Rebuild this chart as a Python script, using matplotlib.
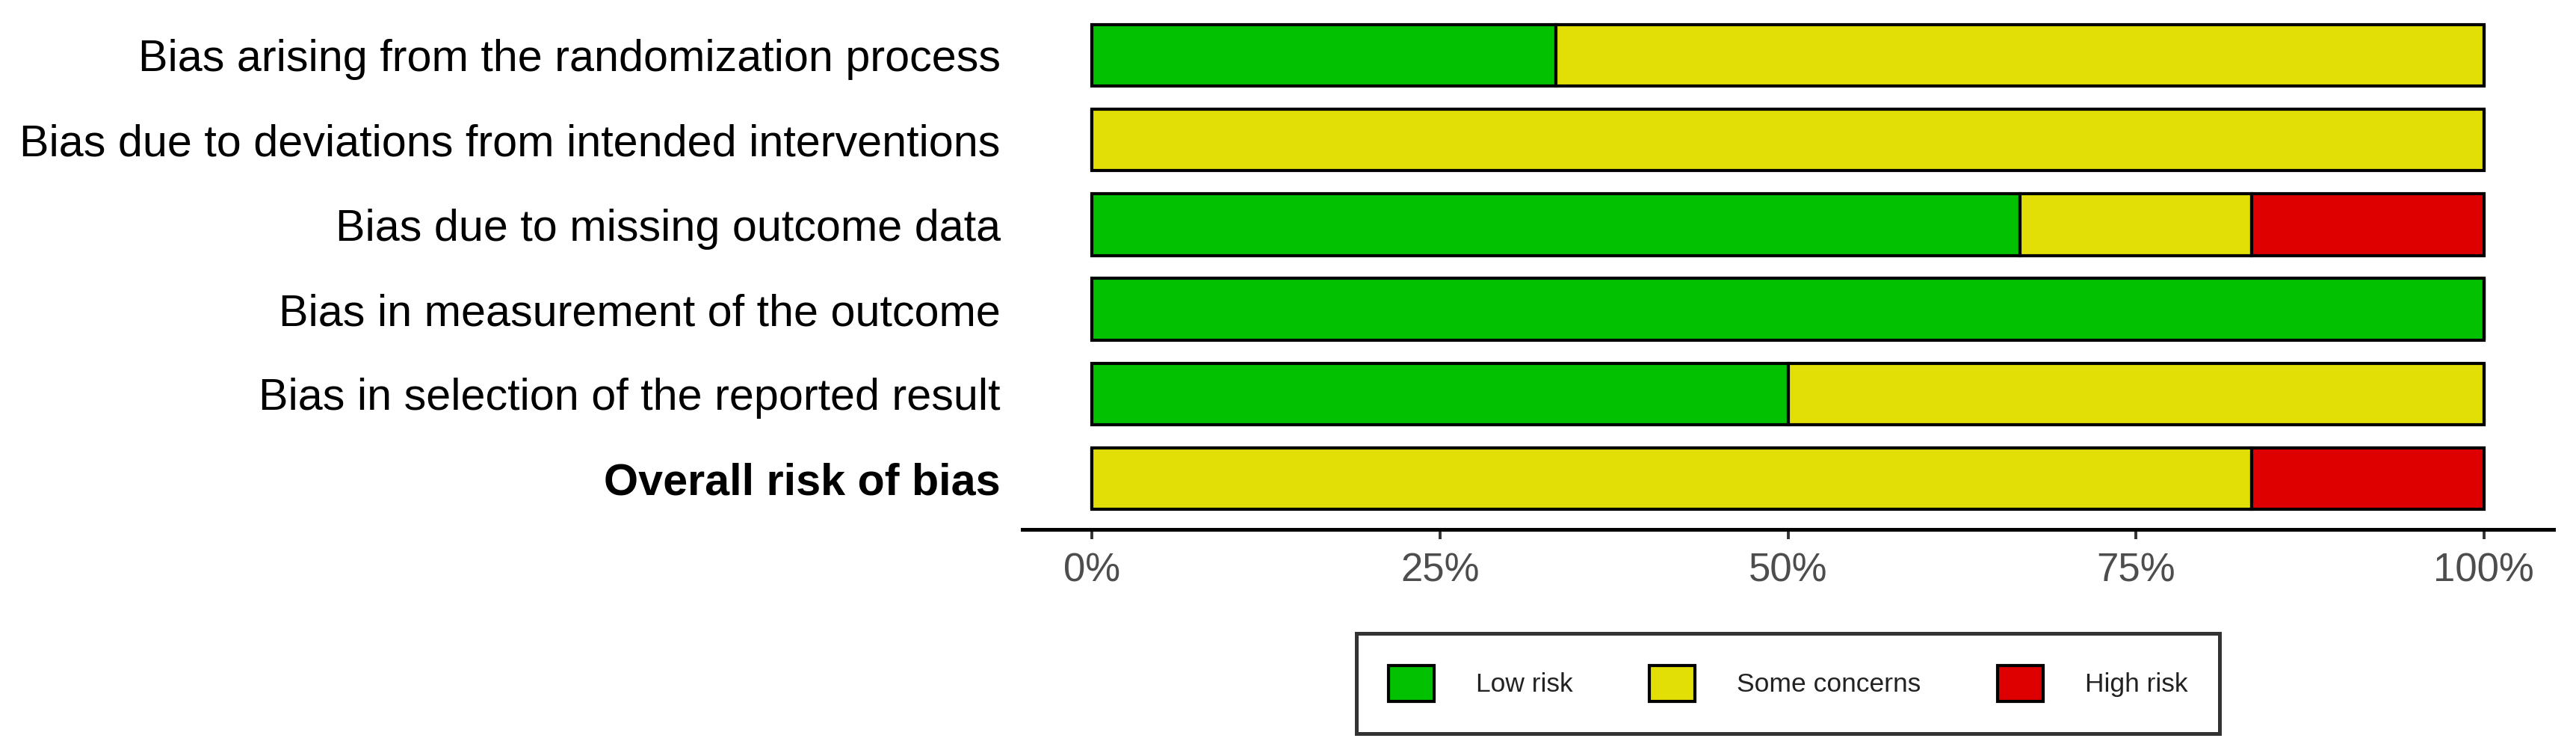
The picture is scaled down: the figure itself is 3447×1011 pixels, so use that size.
import numpy as np
import matplotlib
matplotlib.use('Agg')
import matplotlib.pyplot as plt
from matplotlib.patches import Patch

plt.rcParams['font.family'] = ['Liberation Sans', 'DejaVu Sans']

# dominios (de arriba a abajo)
dominios = [
    'Bias arising from the randomization process',
    'Bias due to deviations from intended interventions',
    'Bias due to missing outcome data',
    'Bias in measurement of the outcome',
    'Bias in selection of the reported result',
    'Overall risk of bias',
]
# numero de estudios por juicio (6 estudios)
bajo = [2, 0, 4, 6, 3, 0]
algunas = [4, 6, 1, 0, 3, 5]
alto = [0, 0, 1, 0, 0, 1]
niveles = ['Low risk', 'Some concerns', 'High risk']
colores = ['#02C100', '#E2DF07', '#DE0000']
ticks_x = [0, 25, 50, 75, 100]

conteos = np.array([bajo, algunas, alto], dtype=float)
pct = conteos / conteos.sum(axis=0) * 100

fig = plt.figure(figsize=(34.48, 10.11), dpi=100)
ax = fig.add_axes([1368 / 3448, 1 - 708 / 1011, 2049 / 3448, 702 / 1011])

y = np.arange(len(dominios))[::-1]
izq = np.zeros(len(dominios))
for i in range(3):
    ax.barh(y, pct[i], left=izq, height=0.73, color=colores[i],
            edgecolor='black', linewidth=3.0)
    izq += pct[i]

ax.set_xlim(-5, 105)
ax.set_ylim(-0.6, len(dominios) - 0.4)
ax.set_xticks(ticks_x)
ax.set_xticklabels(['{}%'.format(t) for t in ticks_x])
ax.set_yticks(y)
ax.set_yticklabels(dominios)
ax.get_yticklabels()[-1].set_fontweight('bold')

for s in ['top', 'right', 'left']:
    ax.spines[s].set_visible(False)
ax.spines['bottom'].set_linewidth(3.6)
ax.spines['bottom'].set_color('black')

ax.tick_params(axis='x', length=9, width=2.8, color='#333333',
               labelsize=38, labelcolor='#4D4D4D', pad=13)
ax.tick_params(axis='y', length=0, labelsize=42.7, labelcolor='black', pad=21)

# leyenda
manejadores = [Patch(facecolor=c, edgecolor='black', linewidth=3.0) for c in colores]
leg = fig.legend(manejadores, niveles, loc='center', ncol=3,
                 bbox_to_anchor=(2392.5 / 3448, 97 / 1011),
                 fontsize=25.5, handlelength=1.72, handleheight=1.72,
                 handletextpad=1.58, columnspacing=2.9, borderpad=1.2,
                 fancybox=False, frameon=True)
leg.get_frame().set_edgecolor('black')
leg.get_frame().set_linewidth(3.6)
for t in leg.get_texts():
    t.set_color('#222222')

fig.savefig('out.png', dpi=100)
